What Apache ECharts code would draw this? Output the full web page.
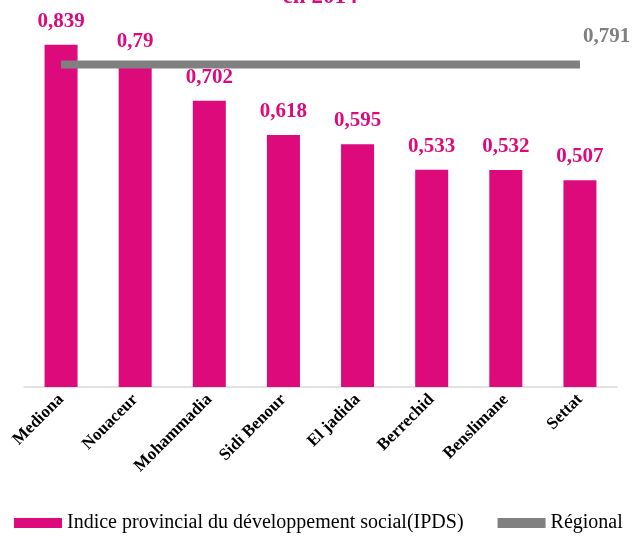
<!DOCTYPE html>
<html>
<head>
<meta charset="utf-8">
<script src="https://cdn.jsdelivr.net/npm/echarts@6/dist/echarts.min.js"></script>
<style>
  html, body { margin: 0; padding: 0; background: #fff; }
  #chart { width: 640px; height: 541px; }
</style>
</head>
<body>
<div id="chart"></div>
<script>
const provinces = ['Mediona', 'Nouaceur', 'Mohammadia', 'Sidi Benour', 'El jadida', 'Berrechid', 'Benslimane', 'Settat']
const ipds = [0.839, 0.79, 0.702, 0.618, 0.595, 0.533, 0.532, 0.507]
const regional = [0.791, 0.791, 0.791, 0.791, 0.791, 0.791, 0.791, 0.791]

const serif = '"Liberation Serif", "Times New Roman", serif'
const fmt = v => String(v).replace('.', ',')

const chart = echarts.init(document.getElementById('chart'))
const option = {
  animation: false,
  color: ['#DC0A7B', '#808080'],
  title: {
    text: 'en 2014',
    left: 'center',
    top: -19,
    textStyle: { color: '#DC0A7B', fontFamily: serif, fontWeight: 'bold', fontSize: 23 }
  },
  grid: {
    top: 20,
    left: 24,
    right: 23,
    bottom: 154,
    containLabel: false
  },
  legend: {
    bottom: 3,
    left: 9,
    width: 631,
    itemGap: 34,
    itemWidth: 48,
    itemHeight: 10,
    icon: 'rect',
    textStyle: { fontFamily: serif, fontSize: 20, color: '#000' },
    data: [
      { name: 'Indice provincial du développement social(IPDS)', icon: 'rect' },
      { name: 'Régional', icon: 'rect' }
    ]
  },
  xAxis: {
    type: 'category',
    data: provinces,
    axisLine: { lineStyle: { color: '#D9D9D9', width: 1.5 } },
    axisTick: { show: false },
    axisLabel: {
      rotate: 45,
      interval: 0,
      margin: 10,
      color: '#000',
      fontFamily: serif,
      fontWeight: 'bold',
      fontSize: 17
    }
  },
  yAxis: {
    type: 'value',
    min: 0,
    max: 0.9,
    show: false,
    splitLine: { show: false }
  },
  series: [
    {
      name: 'Indice provincial du développement social(IPDS)',
      type: 'bar',
      barWidth: 33,
      data: ipds,
      label: {
        show: true,
        position: 'top',
        distance: 13,
        color: '#DC0A7B',
        fontFamily: serif,
        fontWeight: 'bold',
        fontSize: 21,
        formatter: p => fmt(p.value)
      }
    },
    {
      name: 'Régional',
      type: 'line',
      symbol: 'circle',
      symbolSize: 0,
      lineStyle: { color: '#808080', width: 8 },
      itemStyle: { color: '#808080' },
      data: regional.map((v, i) => i === regional.length - 1
        ? { value: v, label: { show: true } }
        : v),
      label: {
        show: false,
        position: [3, -38],
        color: '#808080',
        fontFamily: serif,
        fontWeight: 'bold',
        fontSize: 21,
        formatter: p => fmt(p.value)
      }
    }
  ]
}
chart.setOption(option)
</script>
</body>
</html>
